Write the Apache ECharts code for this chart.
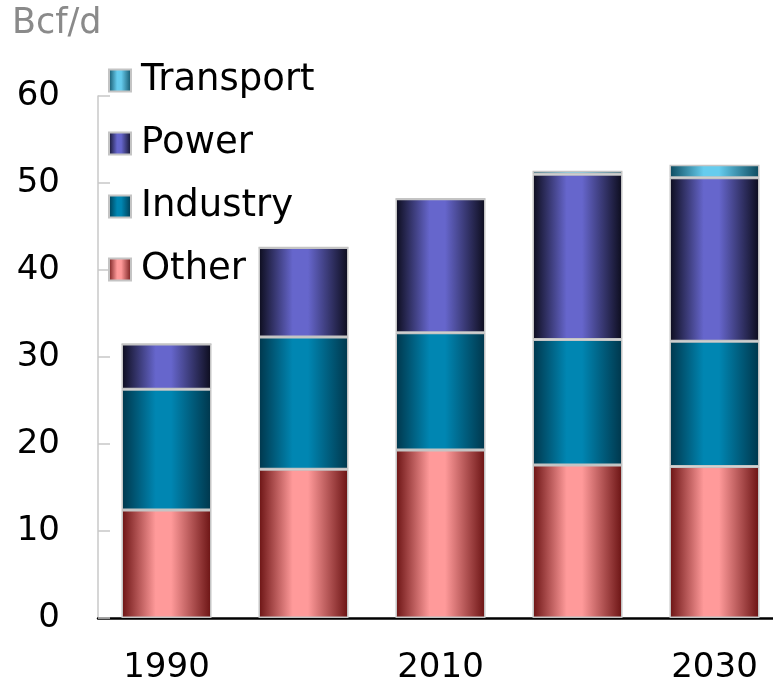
<!DOCTYPE html>
<html>
<head>
<meta charset="utf-8">
<script src="https://cdn.jsdelivr.net/npm/echarts@6/dist/echarts.min.js"></script>
<style>
  html, body { margin: 0; padding: 0; background: #fff; overflow: hidden; }
  #chart { width: 783px; height: 687px; }
</style>
</head>
<body>
<div id="chart"></div>
<script>
var years = ['1990', '2000', '2010', '2020', '2030'];
var other = [12.4, 17.1, 19.3, 17.6, 17.4];
var industry = [13.9, 15.2, 13.5, 14.4, 14.4];
var power = [5.2, 10.3, 15.4, 19.0, 18.8];
var transport = [0, 0, 0, 0.4, 1.5];
var legendOrder = ['Transport', 'Power', 'Industry', 'Other'];

// side-lit gradient: dark edges, light middle
function shade(dark, light) {
  return new echarts.graphic.LinearGradient(0, 0, 1, 0, [
    { offset: 0, color: dark },
    { offset: 0.38, color: light },
    { offset: 0.55, color: light },
    { offset: 1, color: dark }
  ]);
}

var font = '"DejaVu Sans", sans-serif';

function bar(name, data, dark, light) {
  return {
    name: name,
    type: 'bar',
    stack: 'total',
    barWidth: 90,
    data: data,
    itemStyle: {
      color: shade(dark, light),
      borderColor: '#c4c4c4',
      borderWidth: 1.5
    }
  };
}

var chart = echarts.init(document.getElementById('chart'));

var option = {
  backgroundColor: '#fff',
  animation: false,
  graphic: [{
    type: 'text',
    left: 12,
    top: 6,
    style: { text: 'Bcf/d', fill: '#8a8a8a', font: '35px ' + font }
  }],
  legend: {
    data: legendOrder,
    orient: 'vertical',
    icon: 'rect',
    left: 103,
    top: 55,
    itemWidth: 22,
    itemHeight: 22,
    itemGap: 22,
    textStyle: { fontFamily: font, fontSize: 37, color: '#000', lineHeight: 41, padding: [0, 0, 0, 5] }
  },
  grid: { left: 98, top: 96, right: 0, bottom: 69 },
  xAxis: {
    type: 'category',
    data: years,
    axisLine: { lineStyle: { color: '#000', width: 2.5 } },
    axisTick: { show: false },
    axisLabel: { interval: 1, margin: 33, color: '#000', fontFamily: font, fontSize: 34 }
  },
  yAxis: {
    type: 'value',
    min: 0,
    max: 60,
    interval: 10,
    axisLine: { show: true, lineStyle: { color: '#c8c8c8', width: 1.5 } },
    axisTick: { show: true, inside: true, length: 12, lineStyle: { color: '#c8c8c8', width: 1.5 } },
    splitLine: { show: false },
    axisLabel: { margin: 38, color: '#000', fontFamily: font, fontSize: 34 }
  },
  series: [
    bar('Other', other, '#6a1212', '#ff9a9a'),
    bar('Industry', industry, '#00364b', '#0086b2'),
    bar('Power', power, '#0c0c1c', '#6666cc'),
    bar('Transport', transport, '#0c4a5e', '#66ccee')
  ]
};

chart.setOption(option);
</script>
</body>
</html>
